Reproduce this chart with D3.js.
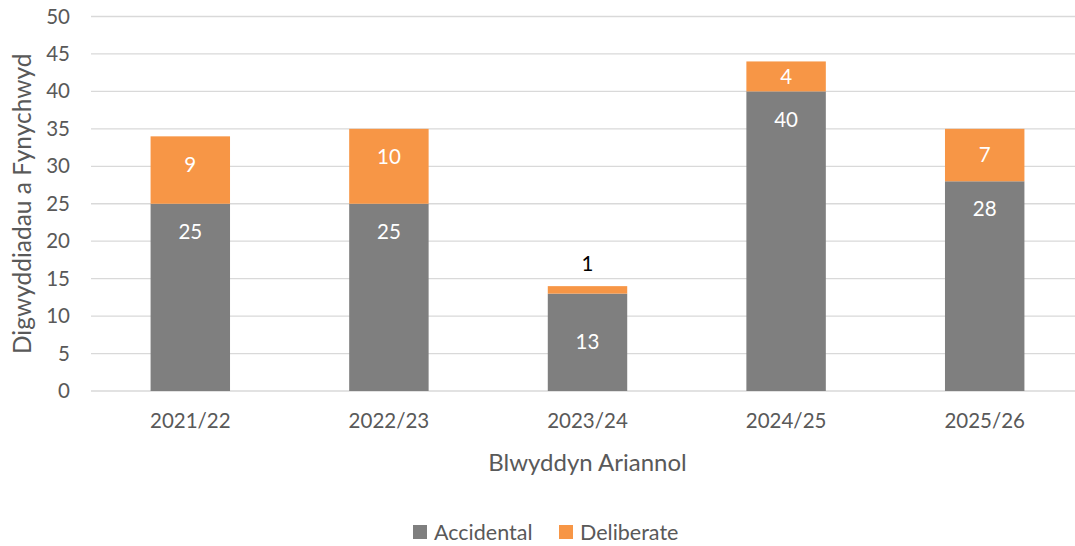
<!DOCTYPE html>
<html>
<head>
<meta charset="utf-8">
<script src="https://cdn.jsdelivr.net/npm/d3@7/dist/d3.min.js"></script>
<style>
  html, body { margin: 0; padding: 0; background: #fff; }
  svg { display: block; font-family: Lato, "Open Sans", sans-serif; }
</style>
</head>
<body>
<svg id="chart" width="1075" height="546"></svg>
<script>
// Incidents attended per financial year, split by cause
const years = ["2021/22", "2022/23", "2023/24", "2024/25", "2025/26"];
const accidental = [25, 25, 13, 40, 28];
const deliberate = [9, 10, 1, 4, 7];
const seriesNames = ["Accidental", "Deliberate"];
const yTicks = [0, 5, 10, 15, 20, 25, 30, 35, 40, 45, 50];

const colours = { Accidental: "#7f7f7f", Deliberate: "#f79646" };
const textColour = "#595959";

const svg = d3.select("#chart");
const plot = { left: 91, right: 1084, top: 16.5, bottom: 391 };

const x = d3.scaleBand()
  .domain(years)
  .range([plot.left, plot.right])
  .paddingInner(0.6)
  .paddingOuter(0.3);

const y = d3.scaleLinear()
  .domain([0, 50])
  .range([plot.bottom, plot.top]);

// Horizontal gridlines
svg.append("g")
  .selectAll("line")
  .data(yTicks)
  .join("line")
  .attr("x1", plot.left)
  .attr("x2", 1075)
  .attr("y1", d => y(d))
  .attr("y2", d => y(d))
  .attr("stroke", "#d9d9d9")
  .attr("stroke-width", 1.3);

// Y axis labels
const yAxis = svg.append("g")
  .attr("transform", "translate(70,0)")
  .call(d3.axisLeft(y).tickValues(yTicks).tickSize(0).tickPadding(0));
yAxis.select(".domain").remove();
yAxis.selectAll("text")
  .attr("fill", textColour)
  .style("font-size", "20.5px")
  .style("font-family", "Lato, 'Open Sans', sans-serif");

// X axis labels
const xAxis = svg.append("g")
  .attr("transform", `translate(0,${plot.bottom})`)
  .call(d3.axisBottom(x).tickSize(0).tickPadding(22));
xAxis.select(".domain").remove();
xAxis.selectAll("text")
  .attr("fill", textColour)
  .style("font-size", "20.5px")
  .style("font-family", "Lato, 'Open Sans', sans-serif");

// Stacked bars
const rows = years.map((yr, i) => ({ year: yr, Accidental: accidental[i], Deliberate: deliberate[i] }));
const stacked = d3.stack().keys(seriesNames)(rows);

const layers = svg.append("g")
  .selectAll("g")
  .data(stacked)
  .join("g")
  .attr("fill", d => colours[d.key]);

layers.selectAll("rect")
  .data(d => d)
  .join("rect")
  .attr("x", d => x(d.data.year))
  .attr("width", x.bandwidth())
  .attr("y", d => y(d[1]))
  .attr("height", d => y(d[0]) - y(d[1]));

// Value labels
const labels = svg.append("g")
  .style("font-size", "20.5px")
  .attr("text-anchor", "middle");

stacked.forEach(layer => {
  layer.forEach(seg => {
    const top = y(seg[1]);
    const base = y(seg[0]);
    const h = base - top;
    const value = seg[1] - seg[0];
    const cx = x(seg.data.year) + x.bandwidth() / 2;
    let cy, fill = "#ffffff";
    if (h < 20) {
      cy = top - 22;
      fill = "#000000";
    } else if (layer.key === "Accidental" && h < 120) {
      cy = (top + base) / 2;
    } else {
      cy = Math.min(top + 28, (top + base) / 2);
    }
    labels.append("text")
      .attr("x", cx)
      .attr("y", cy)
      .attr("dy", "0.35em")
      .attr("fill", fill)
      .text(value);
  });
});

// Axis titles
svg.append("text")
  .attr("transform", `translate(31,${(plot.top + plot.bottom) / 2}) rotate(-90)`)
  .attr("text-anchor", "middle")
  .attr("fill", textColour)
  .style("font-size", "24.5px")
  .text("Digwyddiadau a Fynychwyd");

svg.append("text")
  .attr("x", (plot.left + plot.right) / 2)
  .attr("y", 463)
  .attr("dy", "0.35em")
  .attr("text-anchor", "middle")
  .attr("fill", textColour)
  .style("font-size", "24px")
  .text("Blwyddyn Ariannol");

// Legend
const legendX = [413, 559];
const legend = svg.append("g")
  .selectAll("g")
  .data(seriesNames)
  .join("g")
  .attr("transform", (d, i) => `translate(${legendX[i]},532)`);

legend.append("rect")
  .attr("x", 0)
  .attr("y", -7)
  .attr("width", 14)
  .attr("height", 14)
  .attr("fill", d => colours[d]);

legend.append("text")
  .attr("x", 21)
  .attr("dy", "0.35em")
  .attr("fill", textColour)
  .style("font-size", "21.5px")
  .text(d => d);
</script>
</body>
</html>
